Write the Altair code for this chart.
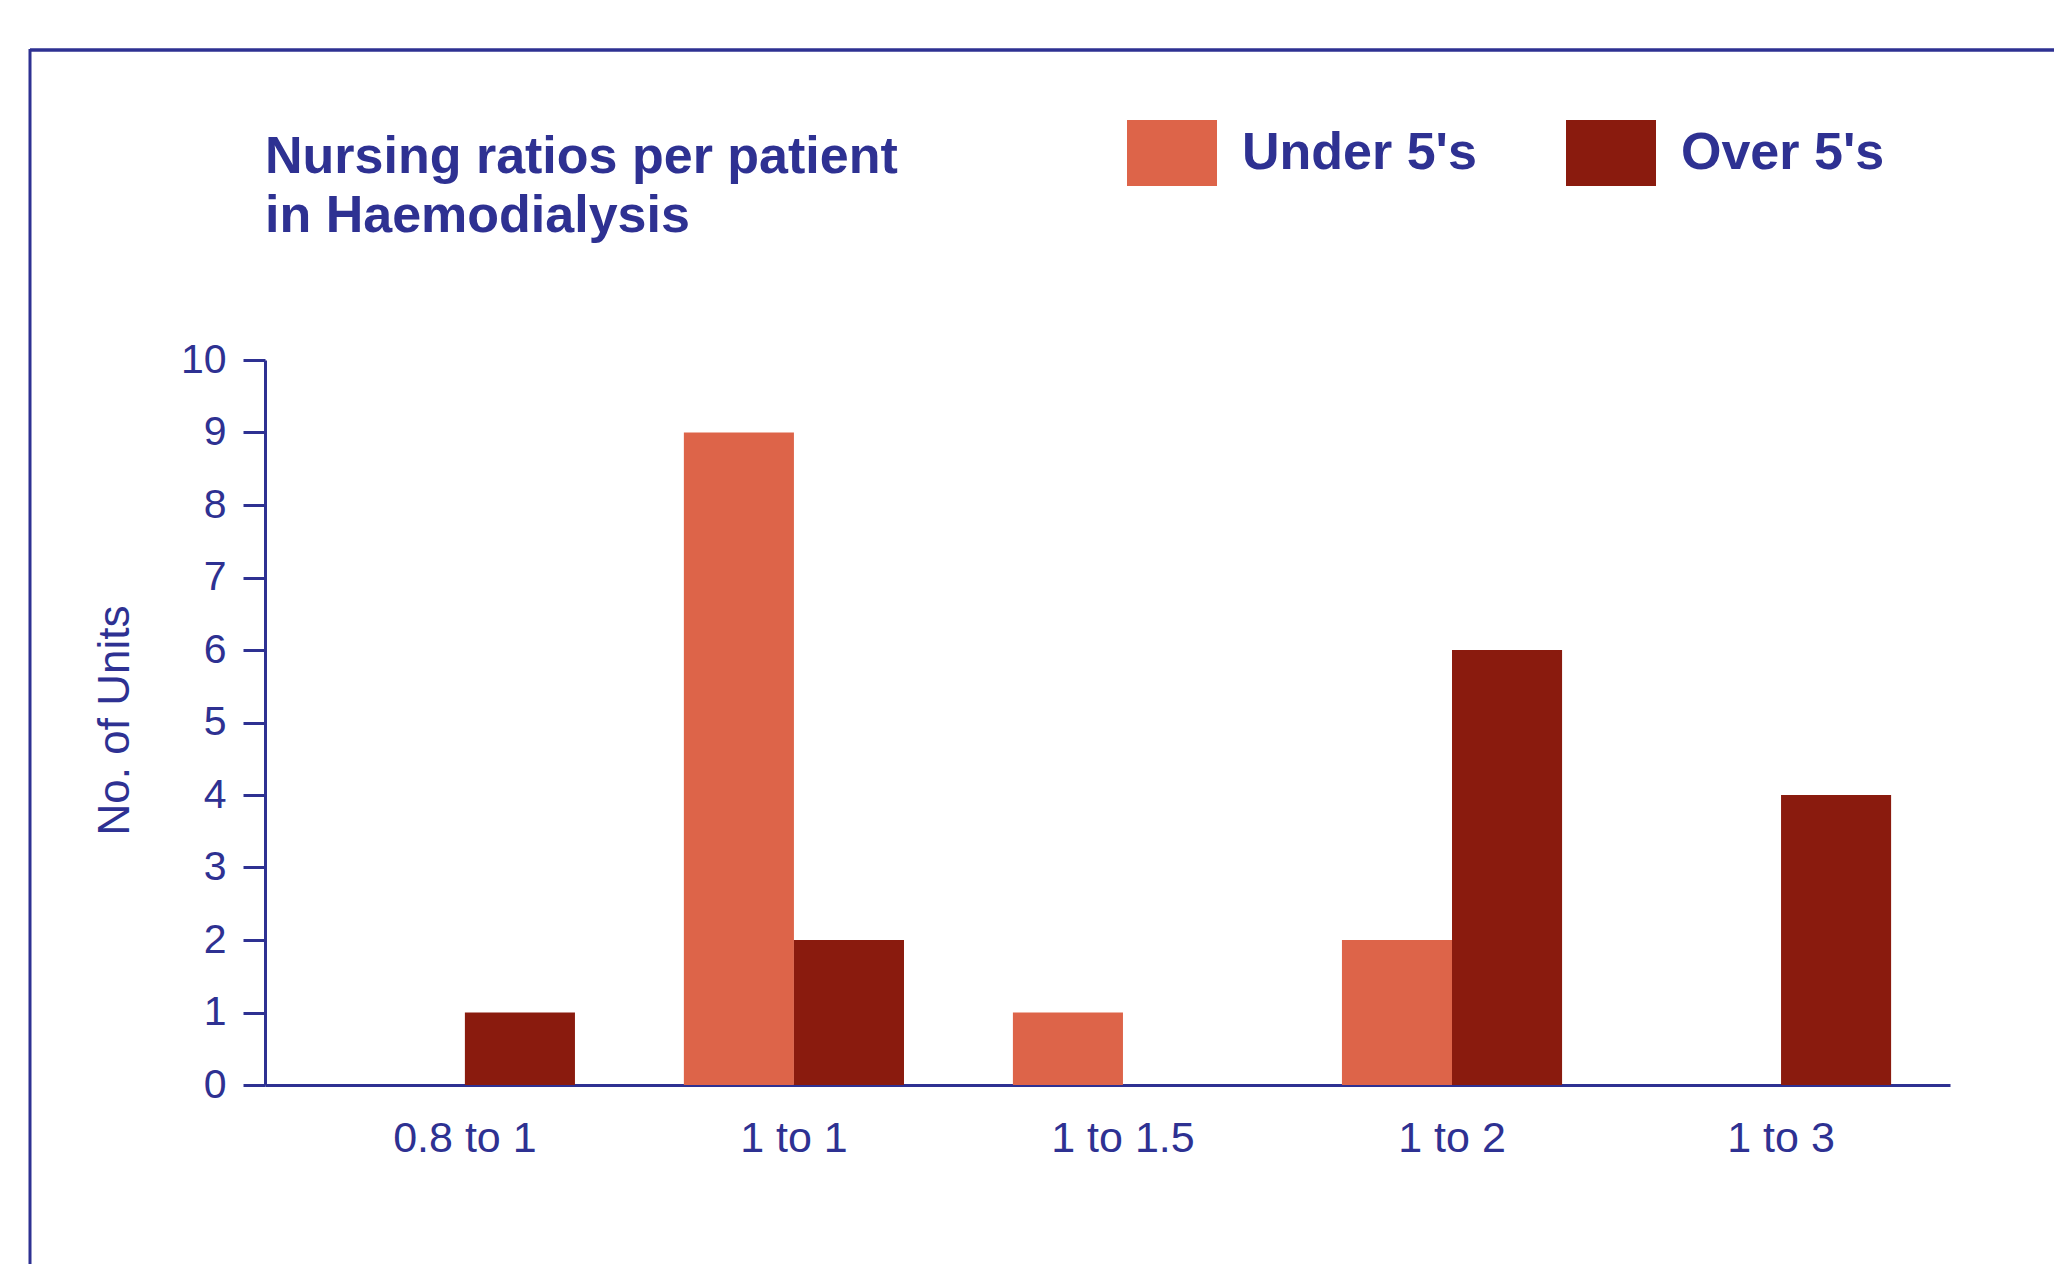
import altair as alt
import pandas as pd

categories = ["0.8 to 1", "1 to 1", "1 to 1.5", "1 to 2", "1 to 3"]
groups = ["Under 5's", "Over 5's"]
under_5 = [0, 9, 1, 2, 0]
over_5 = [1, 2, 0, 6, 4]
y_ticks = [0, 1, 2, 3, 4, 5, 6, 7, 8, 9, 10]
title_lines = ["Nursing ratios per patient", "in Haemodialysis"]
y_title = "No. of Units"
colors = ["#DD6449", "#8A1B0E"]

rows = []
for c, u, o in zip(categories, under_5, over_5):
    rows.append({"ratio": c, "group": groups[0], "units": u})
    rows.append({"ratio": c, "group": groups[1], "units": o})
df = pd.DataFrame(rows)
one = pd.DataFrame({"a": [0]})

BLUE = "#2E3192"
FONT = "Liberation Sans"
W, H = 1685, 725

rect_path = "M-1,-0.7333L1,-0.7333L1,0.7333L-1,0.7333Z"

bars = alt.Chart(df).mark_bar(strokeWidth=0).encode(
    x=alt.X(
        "ratio:N", sort=categories,
        scale=alt.Scale(paddingInner=0.331, paddingOuter=0.226, align=0.604),
        axis=alt.Axis(title=None, labelAngle=0, ticks=False, labelPadding=32,
                      labelFontSize=43, labelColor=BLUE, labelFont=FONT,
                      domainColor=BLUE, domainWidth=3, grid=False),
    ),
    xOffset=alt.XOffset("group:N", sort=groups,
                        scale=alt.Scale(paddingInner=0, paddingOuter=0)),
    y=alt.Y(
        "units:Q", scale=alt.Scale(domain=[0, 10], nice=False),
        axis=alt.Axis(values=y_ticks, title=y_title, grid=False,
                      tickSize=22, tickWidth=3, tickColor=BLUE,
                      domainColor=BLUE, domainWidth=3,
                      labelFontSize=41, labelFont=FONT, labelColor=BLUE, labelPadding=17,
                      titleFontSize=44, titleFont=FONT, titleFontWeight="normal",
                      titleColor=BLUE, titleX=-137, titleY=360,
                      titleBaseline="alphabetic", titleAlign="center", titleAngle=270),
    ),
    color=alt.Color(
        "group:N", sort=groups,
        scale=alt.Scale(domain=groups, range=colors),
        legend=alt.Legend(orient="none", legendX=862, legendY=-252,
                          direction="horizontal", title=None,
                          symbolType=rect_path, symbolSize=8100,
                          symbolStrokeWidth=0, symbolOpacity=1,
                          labelFontSize=52, labelFont=FONT, labelFontWeight="bold",
                          labelColor=BLUE, labelOffset=25, columnPadding=89,
                          padding=0, labelLimit=600),
    ),
)

border_top = alt.Chart(one).mark_rule(color=BLUE, strokeWidth=3.5).encode(
    x=alt.value(-235), x2=alt.value(1789), y=alt.value(-310)
)
border_left = alt.Chart(one).mark_rule(color=BLUE, strokeWidth=3).encode(
    x=alt.value(-235), y=alt.value(-311), y2=alt.value(904)
)
title_text = alt.Chart(one).mark_text(
    text="\n".join(title_lines), lineBreak="\n", lineHeight=59,
    align="left", baseline="alphabetic", font=FONT, fontSize=52,
    fontWeight="bold", color=BLUE,
).encode(x=alt.value(0), y=alt.value(-187))

chart = alt.layer(bars, border_top, border_left, title_text).properties(
    width=W, height=H,
    autosize=alt.AutoSizeParams(type="none"),
    padding={"left": 257, "top": 352, "right": 104, "bottom": 179},
).configure(background="white").configure_view(stroke=None, strokeWidth=0)

chart.save("out.html", embed_options={"renderer": "svg", "actions": False})
